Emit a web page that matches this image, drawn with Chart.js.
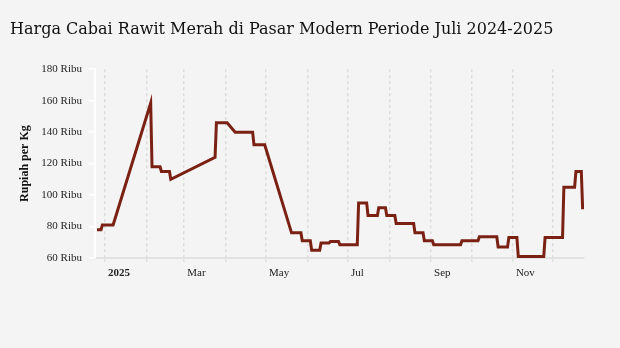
<!DOCTYPE html>
<html>
<head>
<meta charset="utf-8">
<script src="https://cdn.jsdelivr.net/npm/chart.js@4.4.1/dist/chart.umd.min.js"></script>
<style>
  body { margin: 0; background: #f4f4f4; }
  #wrap { width: 620px; height: 348px; }
</style>
</head>
<body>
<div id="wrap"><canvas id="grafik" width="620" height="348"></canvas></div>
<script>
// tanggal pengamatan dan harga (ribu rupiah per kg)
var tanggal = [
  "2024-12-26","2024-12-29","2024-12-30","2025-01-07","2025-02-04","2025-02-05",
  "2025-02-11","2025-02-12","2025-02-18","2025-02-19","2025-03-24","2025-03-25",
  "2025-04-02","2025-04-08","2025-04-21","2025-04-22","2025-04-30","2025-05-20",
  "2025-05-27","2025-05-28","2025-06-03","2025-06-04","2025-06-10","2025-06-11",
  "2025-06-17","2025-06-18","2025-06-24","2025-06-25","2025-07-08","2025-07-09",
  "2025-07-15","2025-07-16","2025-07-23","2025-07-24","2025-07-29","2025-07-30",
  "2025-08-05","2025-08-06","2025-08-19","2025-08-20","2025-08-26","2025-08-27",
  "2025-09-02","2025-09-03","2025-09-23","2025-09-24","2025-10-06","2025-10-07",
  "2025-10-20","2025-10-21","2025-10-28","2025-10-29","2025-11-04","2025-11-05",
  "2025-11-24","2025-11-25","2025-12-08","2025-12-09","2025-12-17","2025-12-18",
  "2025-12-22","2025-12-23"
];
var harga = [
  78, 78, 81, 81, 158.5, 118,
  118, 115, 115, 110, 124, 146,
  146, 140, 140, 132, 132, 76,
  76, 71, 71, 65, 65, 69.5,
  69.5, 70.5, 70.5, 68.5, 68.5, 95,
  95, 87, 87, 92, 92, 87,
  87, 82, 82, 76, 76, 71,
  71, 68.5, 68.5, 71, 71, 73.5,
  73.5, 67, 67, 73, 73, 61,
  61, 73, 73, 105, 105, 115,
  115, 91
];
var bulanAwal = ["2025-01-01","2025-02-01","2025-03-01","2025-04-01","2025-05-01","2025-06-01",
                 "2025-07-01","2025-08-01","2025-09-01","2025-10-01","2025-11-01","2025-12-01"];
var labelBulan = ["2025","","Mar","","May","","Jul","","Sep","","Nov",""];
var yTicks = [60, 80, 100, 120, 140, 160, 180];

function hari(s){
  var p = s.split("-");
  return (Date.UTC(+p[0], +p[1]-1, +p[2]) - Date.UTC(2025,0,1)) / 86400000;
}

var titik = [];
for (var i = 0; i < tanggal.length; i++) {
  titik.push({x: hari(tanggal[i]), y: harga[i]});
}
var posBulan = bulanAwal.map(hari);

var fontSerif = "'Liberation Serif', 'Times New Roman', serif";

new Chart("grafik", {
  type: "line",
  data: {
    datasets: [{
      data: titik,
      borderColor: "#7a2113",
      borderWidth: 3,
      pointRadius: 0,
      tension: 0,
      fill: false
    }]
  },
  options: {
    responsive: false,
    animation: false,
    devicePixelRatio: 1,
    layout: { padding: { left: 10, right: 36, top: 8, bottom: 60 } },
    plugins: {
      legend: { display: false },
      tooltip: { enabled: false },
      title: {
        display: true,
        text: "Harga Cabai Rawit Merah di Pasar Modern Periode Juli 2024-2025",
        align: "start",
        color: "#111",
        font: { family: "'DejaVu Serif', serif", size: 16, weight: "normal" },
        padding: { top: 12, bottom: 30 }
      }
    },
    scales: {
      x: {
        type: "linear",
        min: -7.5,
        max: 357,
        afterBuildTicks: function(scale){
          scale.ticks = posBulan.map(function(v){ return {value: v}; });
        },
        afterFit: function(scale){ scale.height = 30; },
        ticks: {
          autoSkip: false,
          maxRotation: 0,
          align: "start",
          labelOffset: 3,
          padding: 5,
          color: "#222",
          font: function(ctx){
            return { family: fontSerif, size: 11, weight: ctx.index === 0 ? "bold" : "normal" };
          },
          callback: function(v, idx){ return labelBulan[idx]; }
        },
        grid: {
          color: "#dddddd",
          lineWidth: 1.5,
          tickLength: 4,
          tickColor: "#e2e2e2"
        },
        border: { color: "#e2e2e2", width: 2, dash: [3, 3] }
      },
      y: {
        min: 60,
        max: 180,
        afterBuildTicks: function(scale){
          scale.ticks = yTicks.map(function(v){ return {value: v}; });
        },
        afterFit: function(scale){ scale.width = 85; },
        ticks: {
          padding: 7,
          color: "#222",
          font: { family: fontSerif, size: 11 },
          callback: function(v){ return v + " Ribu"; }
        },
        grid: { drawOnChartArea: false, color: "#ffffff", tickLength: 6, lineWidth: 1.5 },
        border: { color: "#ffffff", width: 2 },
        title: {
          display: true,
          text: "Rupiah per Kg",
          color: "#111",
          font: { family: fontSerif, size: 12, weight: "bold" },
          padding: { top: 8, bottom: 4 }
        }
      }
    }
  }
});
</script>
</body>
</html>
